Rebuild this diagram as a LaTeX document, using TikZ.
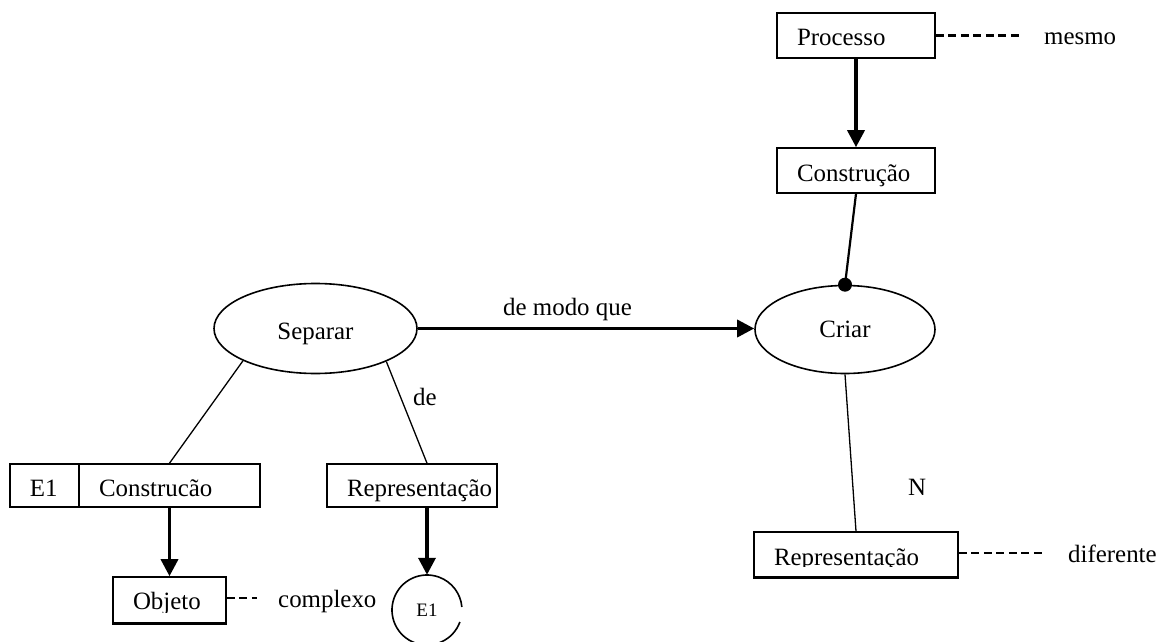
\documentclass[tikz,border=0pt]{standalone}
\usepackage{fontspec}
\setmainfont{Liberation Serif}
\usetikzlibrary{arrows.meta,calc,shapes.geometric}
\begin{document}
\begin{tikzpicture}[x=1pt,y=-1pt,
  every node/.style={font=\fontsize{24.9}{30}\selectfont},
  box/.style={draw, line width=1.6pt, rectangle, inner ysep=0pt, inner xsep=20pt,
    minimum height=45pt, text height=22pt, text depth=0pt, align=left},
  oval/.style={draw, ellipse, line width=1.6pt, inner sep=0pt, text height=22pt, text depth=0pt},
  thinline/.style={line width=1.3pt},
  thickarrow/.style={line width=3.5pt, -{Triangle[length=17pt,width=17pt]}},
  dashline/.style={line width=2.6pt, dash pattern=on 8pt off 4.5pt},
  lbl/.style={anchor=base west, inner sep=0pt}]
\useasboundingbox (0,0) rectangle (1160,642);
\clip (0,0) rectangle (1160,642);

% nodes
\node[box, minimum width=158pt, text width=118pt, text height=21pt] (proc) at (856,35.5) {Processo};
\node[box, minimum width=158pt, text width=118pt] (constr2) at (856,170.5) {Construção};
\node[oval, minimum width=203pt, minimum height=90pt] (sep) at (315.5,328.5) {Separar};
\node[oval, minimum width=180pt, minimum height=88pt, text height=16pt] (criar) at (845,329.5) {Criar};
\node[box, minimum width=69pt, minimum height=43pt, text width=29pt] (e1b) at (44.5,485.5) {E1};
\node[box, minimum width=181pt, minimum height=43pt, text width=141pt] (constr1) at (169.5,485.5) {Construcão};
\node[box, minimum width=170pt, minimum height=43pt, text width=130pt] (rep1) at (412,485.5) {Representação};
\node[box, minimum width=113pt, minimum height=46pt, text width=73pt, text height=18pt] (obj) at (169.5,600) {Objeto};
\node[box, minimum width=204pt, minimum height=45pt, text width=164pt, text height=21pt] (rep2) at (856,554.5) {Representação};
\node[circle, minimum size=70pt, inner sep=0pt, font=\fontsize{19}{22}\selectfont,
  text height=13pt, text depth=0pt] (e1c) at (427,610) {E1};

% clipped lower parts of the texts in two boxes, then their bottom edges again
\fill[white] ($(obj.south west)+(1.5,-1.5)$) rectangle ($(obj.south east)+(-1.5,-11)$);
\fill[white] ($(rep2.south west)+(1.5,-1.5)$) rectangle ($(rep2.south east)+(-1.5,-11)$);
\draw[line width=1.6pt] (obj.south west) -- (obj.south east);
\draw[line width=1.6pt] (rep2.south west) -- (rep2.south east);

% circle with its small gap on the right
\draw[line width=1.6pt] ($(e1c.center)+(20:35)$) arc[start angle=20, end angle=355, radius=35];

% free ends of the dashed lines
\coordinate (dm) at (1020,35.5);
\coordinate (dc) at (257,598);
\coordinate (dd) at (1042,553);

% connectors
\draw[thickarrow] (proc.south) -- (constr2.north);
\draw[line width=2.2pt] (constr2.south) -- (criar.north);
\fill (criar.north) circle (7);
\draw[thickarrow] (sep.east) -- (sep.east -| criar.west);
\draw[thinline] (sep.204) -- (constr1.north);
\draw[thinline] (sep.335) -- ($(rep1.north)+(15,0)$);
\draw[thinline] (criar.south) -- (rep2.north);
\draw[thickarrow] (constr1.south) -- (obj.north);
\draw[thickarrow] (e1c.north |- rep1.south) -- (e1c.north);
\draw[dashline] (proc.east) -- (dm);
\draw[dashline] (obj.east |- dc) -- (dc);
\draw[dashline] (rep2.east |- dd) -- (dd);

% labels
\node[lbl] (lmesmo) at (1044,45) {mesmo};
\node[lbl] (lcompl) at (278,607) {complexo};
\node[lbl] (ldif) at (1068,562) {diferente};
\node[lbl] (lN) at (908,495) {N};
\node[lbl] (lmodo) at (503,315) {de modo que};
\node[lbl] (lde) at (413,405) {de};
\end{tikzpicture}
\end{document}
